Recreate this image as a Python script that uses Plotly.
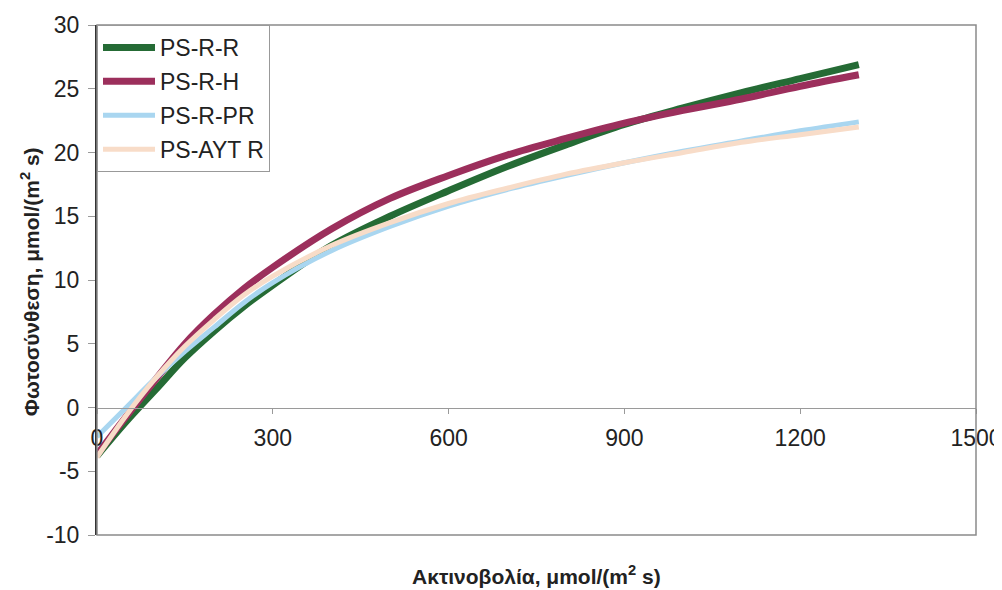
import plotly.graph_objects as go

# Irradiance (x) values, μmol/(m2 s)
irradiance = [0, 50, 100, 150, 200, 250, 300, 400, 500, 600, 700, 800, 900, 1000, 1100, 1200, 1300]

# Photosynthesis values per series
ps_r_r = [-3.8, -1.1, 1.4, 3.9, 6.0, 7.9, 9.6, 12.7, 15.0, 17.0, 18.9, 20.6, 22.2, 23.5, 24.7, 25.8, 26.9]
ps_r_h = [-3.7, -0.7, 2.2, 5.0, 7.3, 9.3, 11.0, 14.0, 16.4, 18.2, 19.8, 21.1, 22.3, 23.3, 24.2, 25.2, 26.1]
ps_r_pr = [-2.3, 0.0, 2.3, 4.4, 6.3, 8.2, 9.8, 12.3, 14.2, 15.8, 17.1, 18.2, 19.2, 20.1, 20.9, 21.7, 22.4]
ps_ayt_r = [-3.9, -0.6, 2.3, 4.8, 6.9, 8.8, 10.3, 12.7, 14.5, 16.0, 17.2, 18.3, 19.2, 20.0, 20.8, 21.4, 22.0]

series_names = ["PS-R-R", "PS-R-H", "PS-R-PR", "PS-AYT R"]
series_values = [ps_r_r, ps_r_h, ps_r_pr, ps_ayt_r]
series_colors = ["#256b35", "#9c2f5c", "#a9d6f0", "#f8dcc8"]
series_widths = [7, 7, 5, 5]

x_ticks = [0, 300, 600, 900, 1200, 1500]
y_ticks = [-10, -5, 0, 5, 10, 15, 20, 25, 30]

fig = go.Figure()
for name, vals, col, w in zip(series_names, series_values, series_colors, series_widths):
    fig.add_trace(go.Scatter(
        x=irradiance, y=vals, mode="lines", name=name,
        line=dict(color=col, width=w, shape="spline", smoothing=1.0),
        legendgroup=name,
    ))

font_family = "Liberation Sans, Arial, sans-serif"

fig.update_layout(
    width=994, height=582,
    margin=dict(l=89, r=26, t=17, b=55, autoexpand=False),
    paper_bgcolor="white", plot_bgcolor="white",
    font=dict(family=font_family, color="#222", size=22),
    showlegend=True,
    legend=dict(
        x=0, y=1, xanchor="left", yanchor="top",
        bgcolor="white", bordercolor="#999", borderwidth=1,
        font=dict(size=23, color="#222"),
        itemwidth=52, tracegroupgap=1,
    ),
    xaxis=dict(
        range=[0, 1500], tickvals=x_ticks, ticktext=[str(v) for v in x_ticks],
        anchor="free", position=0.25, automargin=False,
        showline=True, linecolor="#9a9a9a", linewidth=1,
        ticks="outside", ticklen=5, tickcolor="#9a9a9a",
        ticklabelstandoff=5,
        showgrid=False, zeroline=False,
        tickfont=dict(size=23, color="#222"),
    ),
    yaxis=dict(
        range=[-10, 30], tickvals=y_ticks, ticktext=[str(v) for v in y_ticks],
        automargin=False,
        showline=True, linecolor="#333", linewidth=2,
        ticks="outside", ticklen=7, tickcolor="#9a9a9a",
        ticklabelstandoff=4,
        showgrid=False, zeroline=False,
        tickfont=dict(size=23, color="#222"),
    ),
    shapes=[dict(type="rect", xref="paper", yref="paper", x0=0, x1=1, y0=0, y1=1,
                 line=dict(color="#8a8a8a", width=1.5), layer="above")],
    annotations=[
        dict(text="<b>Ακτινοβολία, μmol/(m<sup>2</sup> s)</b>", xref="paper", yref="paper",
             x=0.5, y=-0.078, xanchor="center", yanchor="middle", showarrow=False,
             font=dict(size=21, color="#222")),
        dict(text="<b>Φωτοσύνθεση, μmol/(m<sup>2</sup> s)</b>", xref="paper", yref="paper",
             x=-0.076, y=0.496, xanchor="center", yanchor="middle", showarrow=False,
             textangle=-90, font=dict(size=21, color="#222")),
    ],
)

fig.write_html("out.html")
